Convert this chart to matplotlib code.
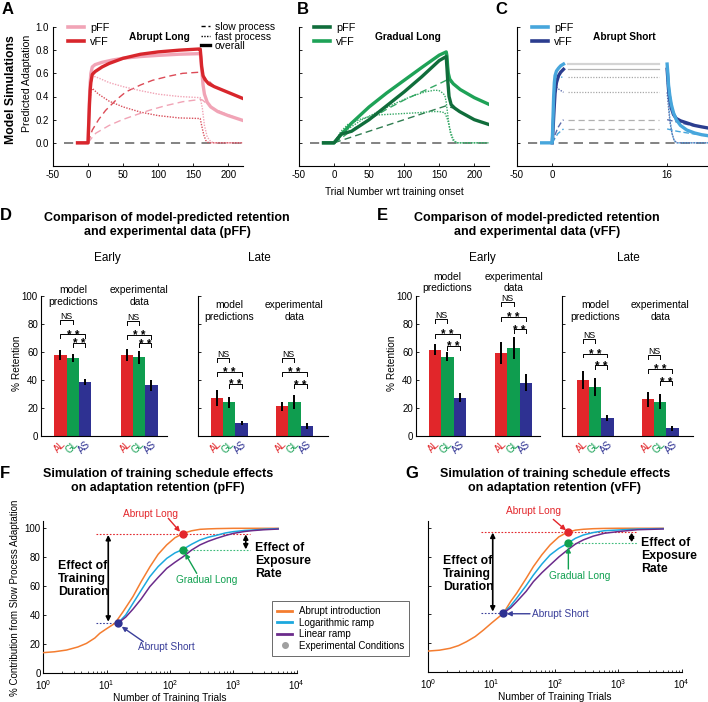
import numpy as np
import matplotlib.pyplot as plt
from matplotlib.lines import Line2D

plt.rcParams['font.family'] = ['Liberation Sans', 'DejaVu Sans']
plt.rcParams['mathtext.default'] = 'regular'
plt.rcParams['axes.linewidth'] = 0.8
plt.rcParams['xtick.direction'] = 'in'
plt.rcParams['ytick.direction'] = 'in'

# ---------------- data: panels A-C (trial number, predicted adaptation) ----------------
a_pff_t = [-15, 0, 1, 2, 3, 4, 6, 10, 20, 35, 50, 75, 100, 130, 160, 161, 162, 164, 166, 170, 175, 185, 200, 220]
a_pff = [0, 0, 0.2, 0.38, 0.52, 0.6, 0.655, 0.675, 0.695, 0.715, 0.73, 0.745, 0.755, 0.765, 0.77, 0.72, 0.64, 0.5, 0.42, 0.35, 0.31, 0.27, 0.235, 0.195]
a_vff_t = [-15, 0, 1, 2, 3, 4, 6, 10, 20, 30, 50, 75, 100, 130, 158, 160, 161, 162, 164, 167, 172, 180, 200, 220]
a_vff = [0, 0, 0.17, 0.33, 0.45, 0.52, 0.59, 0.615, 0.655, 0.685, 0.73, 0.765, 0.785, 0.8, 0.81, 0.81, 0.74, 0.66, 0.58, 0.545, 0.51, 0.485, 0.435, 0.385]
a_pff_slow_t = [0, 5, 11, 30, 49, 70, 87, 110, 135, 160, 163, 167, 175, 190, 220]
a_pff_slow = [0, 0.04, 0.083, 0.15, 0.2, 0.245, 0.28, 0.32, 0.355, 0.375, 0.37, 0.35, 0.31, 0.265, 0.195]
a_vff_slow_t = [0, 6, 15, 25, 40, 54, 75, 92, 115, 135, 160, 162, 166, 170, 180, 200, 220]
a_vff_slow = [0, 0.11, 0.2, 0.28, 0.37, 0.44, 0.5, 0.54, 0.575, 0.6, 0.61, 0.6, 0.565, 0.545, 0.49, 0.435, 0.385]
a_pff_fast_t = [0, 2, 4, 6, 15, 30, 50, 75, 100, 130, 160, 163, 166, 170, 175, 180, 220]
a_pff_fast = [0, 0.3, 0.5, 0.58, 0.56, 0.52, 0.485, 0.45, 0.42, 0.4, 0.39, 0.3, 0.15, 0.05, 0.01, 0, 0]
a_vff_fast_t = [0, 2, 4, 6, 15, 30, 50, 75, 100, 130, 160, 162, 165, 168, 172, 220]
a_vff_fast = [0, 0.3, 0.44, 0.47, 0.42, 0.36, 0.31, 0.265, 0.235, 0.215, 0.21, 0.15, 0.07, 0.02, 0, 0]

b_pff_t = [-15, 0, 10, 25, 50, 75, 100, 125, 150, 160, 161, 162, 164, 167, 172, 179, 200, 220]
b_pff = [0, 0, 0.075, 0.1, 0.2, 0.32, 0.44, 0.57, 0.71, 0.745, 0.65, 0.55, 0.4, 0.33, 0.3, 0.27, 0.2, 0.16]
b_vff_t = [-15, 0, 10, 25, 50, 75, 100, 125, 150, 160, 161, 162, 163, 165, 170, 180, 200, 220]
b_vff = [0, 0, 0.07, 0.17, 0.31, 0.43, 0.54, 0.65, 0.757, 0.785, 0.75, 0.66, 0.6, 0.55, 0.51, 0.46, 0.39, 0.335]
b_pff_slow_t = [0, 10, 50, 100, 150, 160, 170, 179, 200, 220]
b_pff_slow = [0, 0.02, 0.1, 0.2, 0.3, 0.32, 0.3, 0.27, 0.2, 0.16]
b_vff_slow_t = [0, 10, 30, 50, 75, 100, 125, 150, 160, 165, 170, 180, 200, 220]
b_vff_slow = [0, 0.04, 0.13, 0.2, 0.29, 0.37, 0.44, 0.51, 0.54, 0.53, 0.51, 0.46, 0.39, 0.335]
b_pff_fast_t = [0, 5, 10, 20, 40, 60, 90, 120, 140, 150, 158, 162, 166, 170, 175, 220]
b_pff_fast = [0, 0.05, 0.1, 0.16, 0.21, 0.24, 0.25, 0.26, 0.27, 0.27, 0.26, 0.2, 0.1, 0.03, 0, 0]
b_vff_fast_t = [0, 5, 10, 20, 40, 60, 87, 110, 130, 144, 150, 155, 158, 160, 163, 166, 170, 174, 220]
b_vff_fast = [0, 0.03, 0.07, 0.12, 0.2, 0.26, 0.34, 0.4, 0.44, 0.455, 0.45, 0.43, 0.41, 0.35, 0.2, 0.08, 0.02, 0, 0]

c_pff_t = [-15, 0, 1, 2, 3, 4, 6, 9, 12, 16]
c_pff = [0, 0, 0.2, 0.4, 0.52, 0.58, 0.62, 0.645, 0.665, 0.68]
c_vff_t = [0, 1, 2, 3, 4, 6, 9, 12, 16]
c_vff = [0, 0.1, 0.22, 0.33, 0.43, 0.52, 0.58, 0.61, 0.635]
c_pff_fast_t = [0, 2, 4, 6, 10, 16]
c_pff_fast = [0, 0.35, 0.52, 0.58, 0.57, 0.565]
c_vff_fast_t = [0, 2, 4, 6, 10, 16]
c_vff_fast = [0, 0.25, 0.42, 0.48, 0.46, 0.436]
c_slow_t = [0, 4, 8, 12, 16]
c_pff_slow = [0, 0.04, 0.08, 0.1, 0.12]
c_vff_slow = [0, 0.07, 0.13, 0.17, 0.2]
# washout after the 16-trial block
c_wash_pff_t = [16, 17, 18, 20, 22, 25, 29, 35, 44, 55, 65, 76]
c_wash_pff = [0.68, 0.6, 0.5, 0.4, 0.33, 0.26, 0.2, 0.15, 0.11, 0.085, 0.07, 0.06]
c_wash_vff_t = [16, 17, 18, 20, 22, 25, 29, 35, 45, 55, 65, 76]
c_wash_vff = [0.635, 0.55, 0.46, 0.37, 0.3, 0.245, 0.21, 0.19, 0.17, 0.15, 0.138, 0.126]
c_wash_fast_t = [16, 18, 20, 23, 26, 30, 76]
c_wash_pff_fast = [0.565, 0.35, 0.2, 0.08, 0.02, 0, 0]
c_wash_vff_fast = [0.436, 0.3, 0.18, 0.08, 0.02, 0, 0]
c_wash_slow_t = [16, 30, 50, 76]
c_wash_pff_slow = [0.12, 0.1, 0.08, 0.06]
c_wash_vff_slow = [0.2, 0.18, 0.15, 0.126]
c_gray_levels = [0.682, 0.636, 0.565, 0.436, 0.2, 0.12]

# ---------------- data: panels D-E (% retention) ----------------
groups = ['AL', 'GL', 'AS']
d_early_model = [57.9, 55.7, 38.6]; d_early_model_err = [3.8, 3.0, 2.3]
d_early_exp = [57.9, 56.2, 36.2]; d_early_exp_err = [4.3, 4.8, 3.8]
d_late_model = [27.1, 24.0, 9.3]; d_late_model_err = [6.0, 4.2, 1.5]
d_late_exp = [21.2, 24.3, 7.1]; d_late_exp_err = [3.3, 5.1, 2.4]
e_early_model = [61.7, 56.7, 27.5]; e_early_model_err = [3.7, 3.2, 2.9]
e_early_exp = [59.1, 62.9, 38.0]; e_early_exp_err = [7.9, 7.9, 6.0]
e_late_model = [40.0, 35.0, 12.7]; e_late_model_err = [6.7, 6.3, 2.2]
e_late_exp = [26.1, 24.4, 5.5]; e_late_exp_err = [5.1, 5.3, 1.8]
# bracket heights: NS (AL-GL), ** (AL-AS), ** (GL-AS)
d_early_br = [[82.9, 72.6, 66.7], [82.4, 72.4, 66.2]]
d_late_br = [[55.5, 45.7, 37.1], [55.5, 45.7, 36.9]]
e_early_br = [[83.3, 73.0, 64.1], [95.7, 85.2, 76.1]]
e_late_br = [[69.4, 58.9, 50.5], [58.1, 47.8, 39.0]]

# ---------------- data: panels F-G (% contribution from slow process) ----------------
f_abrupt_x = [1, 1.5, 2.33, 3.5, 4.8, 6.5, 7.8, 10, 13.5, 18, 26, 35, 48.3, 65, 88.6, 120, 162, 220, 297, 400, 545, 1000, 2000, 5100]
f_abrupt = [13.9, 14.5, 15.7, 17.8, 20.3, 24, 27.3, 30.5, 34.2, 42, 52.7, 63, 73.4, 82, 88.5, 93.5, 96.5, 98.3, 99.3, 99.6, 99.8, 100, 100, 100]
f_ramp_x = [15, 20, 26, 35, 48, 65, 89, 120, 162, 220, 297, 400, 545, 750, 1000, 1500, 2000, 3000, 5100]
f_log = [34.2, 40, 48, 57, 66.5, 73.5, 79.2, 83, 85.5, 89, 91.9, 93.8, 95.2, 96.8, 97.7, 98.5, 98.8, 99.4, 99.8]
f_lin = [34.2, 38.5, 44, 51, 59.6, 66, 72.3, 76.5, 80.4, 85, 88.5, 91, 93.1, 95, 96.5, 97.8, 98.4, 99, 99.5]
f_pts_x = [15, 158, 162]
f_pts = [34.2, 95.8, 85.0]

g_abrupt_x = [1, 1.5, 2.2, 3, 4, 5.5, 7.4, 10, 15.3, 20, 24.8, 35, 45.6, 62, 83.7, 115, 153, 210, 280, 400, 600, 1000, 2000, 5100]
g_abrupt = [14.4, 15, 16.3, 18.2, 20.9, 24.5, 29, 34, 40.7, 49, 54.7, 65, 73.3, 81.5, 88.4, 94, 97, 98.7, 99.3, 99.7, 99.9, 100, 100, 100]
g_ramp_x = [15, 20, 24.8, 35, 45.6, 62, 83.7, 115, 158, 210, 280, 400, 600, 1000, 2000, 5100]
g_log = [40.7, 46, 51.2, 60, 67.4, 75, 81.4, 86, 89.5, 93, 95.3, 97, 98.3, 98.8, 99.5, 99.8]
g_lin = [40.7, 44.5, 48.8, 56, 62.8, 69, 74.4, 80, 84.9, 89, 91.9, 94.5, 96.5, 97.7, 99, 99.5]
g_pts_x = [14.9, 158, 158]
g_pts = [40.7, 97.7, 89.5]

# colours
PINK, RED = '#f1a4b6', '#d8262c'
DKGREEN, GREEN = '#106d3b', '#1ea257'
LTBLUE, NAVY = '#47a6dc', '#2b3d8f'
BAR_R, BAR_G, BAR_B = '#e1262a', '#0f9d4f', '#2e3192'
ORANGE, CYAN, PURPLE = '#f47d30', '#1ca8de', '#6b2b8b'

W, H = 708, 702
fig = plt.figure(figsize=(7.08, 7.02), dpi=100)


def box(l, t, r, b):
    return [l / W, 1 - b / H, (r - l) / W, (b - t) / H]


def ftext(x, y, s, **kw):
    fig.text(x / W, 1 - y / H, s, **kw)


def clean(ax):
    for s in ['top', 'right']:
        ax.spines[s].set_visible(False)


# ---------------- A-C ----------------
def sim_axes(rect, ticks, labels, ylabels=True):
    ax = fig.add_axes(rect)
    clean(ax)
    ax.set_xlim(-50, 221)
    ax.set_ylim(-0.2, 1.0)
    ax.set_xticks(ticks)
    ax.set_xticklabels(labels)
    ax.set_yticks(np.arange(0, 1.01, 0.2))
    if ylabels:
        ax.set_yticklabels(['%.1f' % v for v in np.arange(0, 1.01, 0.2)])
    else:
        ax.set_yticklabels([])
    ax.tick_params(length=2.5, width=0.6, labelsize=7, pad=3)
    ax.plot([-34, 221], [0, 0], color='#606060', lw=1.1, ls=(0, (6, 4)), zorder=1)
    return ax


def sim_legend(ax, c1, c2):
    h = [Line2D([], [], color=c1, lw=2.6), Line2D([], [], color=c2, lw=2.6)]
    ax.legend(h, ['pFF', 'vFF'], loc='upper left', bbox_to_anchor=(0.057, 1.06),
              frameon=False, fontsize=7.8, handlelength=1.5, handletextpad=0.55,
              labelspacing=0.38, borderaxespad=0)


axA = sim_axes(box(53, 27, 243, 166), [-50, 0, 50, 100, 150, 200], ['-50', '0', '50', '100', '150', '200'])
axA.plot(a_pff_slow_t, a_pff_slow, color=PINK, lw=1, ls=(0, (5, 3)))
axA.plot(a_vff_slow_t, a_vff_slow, color='#dc4b57', lw=1, ls=(0, (5, 3)))
axA.plot(a_pff_fast_t, a_pff_fast, color=PINK, lw=1, ls=(0, (1, 1)))
axA.plot(a_vff_fast_t, a_vff_fast, color='#d9505c', lw=1, ls=(0, (1, 1)))
axA.plot(a_pff_t, a_pff, color=PINK, lw=2.4)
axA.plot(a_vff_t, a_vff, color=RED, lw=2.4)
sim_legend(axA, PINK, RED)
axA.text(0.4, 0.93, 'Abrupt Long', transform=axA.transAxes, fontsize=7.3, fontweight='bold', va='center')

axB = sim_axes(box(299, 27, 489, 166), [-50, 0, 50, 100, 150, 200], ['-50', '0', '50', '100', '150', '200'], False)
axB.plot(b_pff_slow_t, b_pff_slow, color='#2f7d50', lw=1, ls=(0, (5, 3)))
axB.plot(b_vff_slow_t, b_vff_slow, color='#35a865', lw=1, ls=(0, (5, 3)))
axB.plot(b_pff_fast_t, b_pff_fast, color='#35a865', lw=1, ls=(0, (1, 1)))
axB.plot(b_vff_fast_t, b_vff_fast, color='#35a865', lw=1, ls=(0, (1, 1)))
axB.plot(b_vff_t, b_vff, color=GREEN, lw=2.4)
axB.plot(b_pff_t, b_pff, color=DKGREEN, lw=2.4)
sim_legend(axB, DKGREEN, GREEN)
axB.text(0.4, 0.93, 'Gradual Long', transform=axB.transAxes, fontsize=7.3, fontweight='bold', va='center')
axB.set_xlabel('Trial Number wrt training onset', fontsize=7.3, labelpad=5)

# panel C: x axis broken after the 16 training trials
C_GAP = 147
axC = sim_axes(box(517, 27, 708, 166), [-50, 0, 16 + C_GAP], ['-50', '0', '16'], False)
for lv, st in zip(c_gray_levels, [('-', 1.6, '#d4d4d4'), ('-', 0.9, '#b4b4b4'), ((0, (1, 1.2)), 0.9, '#a8a8a8'),
                                  ((0, (1, 1.2)), 0.9, '#a8a8a8'), ((0, (5, 3)), 0.9, '#b0b0b0'), ((0, (5, 3)), 0.9, '#b0b0b0')]):
    axC.plot([22, 152], [lv, lv], ls=st[0], lw=st[1], color=st[2])
wp = np.array(c_wash_pff_t) + C_GAP
wv = np.array(c_wash_vff_t) + C_GAP
wf = np.array(c_wash_fast_t) + C_GAP
ws = np.array(c_wash_slow_t) + C_GAP
axC.plot(c_slow_t, c_pff_slow, color=LTBLUE, lw=1, ls=(0, (4, 2)))
axC.plot(c_slow_t, c_vff_slow, color='#5a6aaa', lw=1, ls=(0, (4, 2)))
axC.plot(c_pff_fast_t, c_pff_fast, color=LTBLUE, lw=1, ls=(0, (1, 1)))
axC.plot(c_vff_fast_t, c_vff_fast, color='#5a6aaa', lw=1, ls=(0, (1, 1)))
axC.plot(ws, c_wash_pff_slow, color=LTBLUE, lw=1, ls=(0, (4, 2)))
axC.plot(ws, c_wash_vff_slow, color='#5a6aaa', lw=1, ls=(0, (4, 2)))
axC.plot(wf, c_wash_pff_fast, color=LTBLUE, lw=1, ls=(0, (1, 1)))
axC.plot(wf, c_wash_vff_fast, color='#5a6aaa', lw=1, ls=(0, (1, 1)))
axC.plot(c_vff_t, c_vff, color=NAVY, lw=2.4)
axC.plot(wv, c_wash_vff, color=NAVY, lw=2.4)
axC.plot(c_pff_t, c_pff, color=LTBLUE, lw=2.4)
axC.plot(wp, c_wash_pff, color=LTBLUE, lw=2.4)
sim_legend(axC, LTBLUE, NAVY)
axC.text(0.4, 0.93, 'Abrupt Short', transform=axC.transAxes, fontsize=7.3, fontweight='bold', va='center')

proc_h = [Line2D([], [], color='k', lw=1, ls=(0, (3, 2))), Line2D([], [], color='k', lw=1, ls=(0, (1, 1))),
          Line2D([], [], color='k', lw=2.4)]
fig.legend(proc_h, ['slow process', 'fast process', 'overall'], loc='upper left',
           bbox_to_anchor=(198 / W, 1 - 19 / H), frameon=False, fontsize=7.5, handlelength=0.9,
           handletextpad=0.4, labelspacing=-0.05, borderaxespad=0, borderpad=0.3)

ftext(11, 90, 'Model Simulations', rotation=90, fontsize=8.8, fontweight='bold', ha='center', va='center')
ftext(27.5, 83, 'Predicted Adaptation', rotation=90, fontsize=7.6, ha='center', va='center')


# ---------------- D-E ----------------
def bar_axes(rect, xlim, g2, model, model_err, exp, exp_err, br, ylab, text_y):
    ax = fig.add_axes(rect)
    clean(ax)
    ax.set_xlim(*xlim)
    ax.set_ylim(0, 100)
    cols = [BAR_R, BAR_G, BAR_B]
    pos = [1, 2, 3, 1 + g2, 2 + g2, 3 + g2]
    ax.bar(pos, model + exp, width=1.0, color=cols * 2, zorder=2)
    ax.errorbar(pos, model + exp, yerr=model_err + exp_err, fmt='none', ecolor='k', elinewidth=1.4, capsize=0, zorder=3)
    ax.set_xticks(pos)
    ax.set_xticklabels(groups * 2, rotation=45, ha='right', va='top', rotation_mode='anchor', fontsize=7)
    for lab, c in zip(ax.get_xticklabels(), cols * 2):
        lab.set_color(c)
    ax.tick_params(axis='x', length=0, pad=2)
    ax.set_yticks(range(0, 101, 20))
    ax.tick_params(axis='y', length=2.5, width=0.6, labelsize=7, pad=2)
    if not ylab:
        ax.set_yticklabels([])
    for off, (ns, b1, b2) in zip([0, g2], br):
        for (x1, x2, y, s) in [(1, 2, ns, 'NS'), (1, 3, b1, '**'), (2, 3, b2, '**')]:
            ax.plot([x1 + off, x1 + off, x2 + off, x2 + off], [y - 2.8, y, y, y - 2.8], color='k', lw=0.7,
                    clip_on=False)
            if s == 'NS':
                ax.text((x1 + x2) / 2 + off, y + 0.8, s, fontsize=6.3, ha='center', va='baseline', clip_on=False)
            else:
                ax.text((x1 + x2) / 2 + off, y - 3.0, '* *', fontsize=8.5, fontweight='bold', ha='center',
                        va='baseline', clip_on=False)
    ax.text(2, text_y, 'model\npredictions', fontsize=7.4, ha='center', va='center', linespacing=1.15)
    ax.text(2 + g2, text_y, 'experimental\ndata', fontsize=7.4, ha='center', va='center', linespacing=1.15)
    return ax


bar_axes(box(40.7, 296, 167, 436), (-0.61, 9.66), 5.39, d_early_model, d_early_model_err, d_early_exp,
         d_early_exp_err, d_early_br, True, 100)
bar_axes(box(197.7, 296, 328.3, 436), (-0.57, 10.05), 5.3, d_late_model, d_late_model_err, d_late_exp,
         d_late_exp_err, d_late_br, False, 89.3)
bar_axes(box(415.7, 296, 540, 436), (-0.58, 9.52), 5.37, e_early_model, e_early_model_err, e_early_exp,
         e_early_exp_err, e_early_br, True, 109.6)
bar_axes(box(562.3, 296, 693.3, 436), (-0.67, 9.98), 5.28, e_late_model, e_late_model_err, e_late_exp,
         e_late_exp_err, e_late_br, False, 89.3)

for x, pff in [(167, 'pFF'), (537, 'vFF')]:
    ftext(x, 225, 'Comparison of model-predicted retention\nand experimental data (%s)' % pff,
          fontsize=9, fontweight='bold', ha='center', va='center', linespacing=1.2)
ftext(107, 258, 'Early', fontsize=8.5, ha='center', va='center')
ftext(259, 258, 'Late', fontsize=8.5, ha='center', va='center')
ftext(482, 258, 'Early', fontsize=8.5, ha='center', va='center')
ftext(628, 258, 'Late', fontsize=8.5, ha='center', va='center')
ftext(16.7, 363, '% Retention', rotation=90, fontsize=7.3, ha='center', va='center')
ftext(391.7, 363, '% Retention', rotation=90, fontsize=7.3, ha='center', va='center')


# ---------------- F-G ----------------
def sched_axes(rect, ylab):
    ax = fig.add_axes(rect)
    clean(ax)
    ax.set_xscale('log')
    ax.set_xlim(1, 1e4)
    ax.set_ylim(0, 105)
    ax.set_yticks(range(0, 101, 20))
    if not ylab:
        ax.set_yticklabels([])
    ax.tick_params(which='major', length=2.5, width=0.6, labelsize=7, pad=2)
    ax.tick_params(axis='x', which='major', pad=4)
    ax.tick_params(which='minor', length=1.5, width=0.5)
    ax.set_xlabel('Number of Training Trials', fontsize=7.3, labelpad=1)
    ax.patch.set_visible(False)
    return ax


def sched_plot(ax, ax_x, ab, rx, lg, ln, px, py, dot_end):
    ax.plot(ax_x, ab, color=ORANGE, lw=1.1, zorder=3)
    ax.plot(rx, lg, color=CYAN, lw=1.1, zorder=3)
    ax.plot(rx, ln, color=PURPLE, lw=1.1, zorder=3)
    ax.plot([6.9, dot_end], [py[1], py[1]], color='#e3262b', lw=0.8, ls=(0, (1.5, 1.5)), zorder=2)
    ax.plot([px[2], dot_end], [py[2], py[2]], color='#3dbb7a', lw=0.8, ls=(0, (1.5, 1.5)), zorder=2)
    ax.plot([6.9, px[0]], [py[0], py[0]], color='#3a3f9a', lw=0.8, ls=(0, (1.5, 1.5)), zorder=2)
    for x, y, c in zip(px, py, ['#2e3192', '#e3262b', '#10a050']):
        ax.plot(x, y, 'o', color=c, ms=5, zorder=4)


def dbl_arrow(ax, x, y1, y2):
    ax.annotate('', xy=(x, y1), xytext=(x, y2),
                arrowprops=dict(arrowstyle='<|-|>', color='k', lw=1.2, mutation_scale=7, shrinkA=0, shrinkB=0))


def note(ax, s, c, xy, tail, txy, ha='center'):
    ax.annotate('', xy=xy, xytext=tail,
                arrowprops=dict(arrowstyle='-|>', color=c, lw=1.0, mutation_scale=7, shrinkA=0, shrinkB=0))
    ax.text(txy[0], txy[1], s, color=c, fontsize=7.3, ha=ha, va='center', clip_on=False)


axF = sched_axes(box(43.3, 521.1, 296.7, 672.7), True)
sched_plot(axF, f_abrupt_x, f_abrupt, f_ramp_x, f_log, f_lin, f_pts_x, f_pts, 1850)
dbl_arrow(axF, 10.6, 95.4, 35.3)
dbl_arrow(axF, 1571, 95.8, 85.4)
axF.text(1.72, 64.7, 'Effect of\nTraining\nDuration', fontsize=8.8, fontweight='bold', va='center', linespacing=1.1)
axF.text(2200, 77.4, 'Effect of\nExposure\nRate', fontsize=8.8, fontweight='bold', va='center', linespacing=1.1,
         clip_on=False)
note(axF, 'Abrupt Long', '#e3262b', (144, 97.6), (94, 106.9), (48.4, 109.9))
note(axF, 'Gradual Long', '#10a050', (173, 82.7), (264, 68.8), (380, 64.2))
note(axF, 'Abrupt Short', '#3a3f9a', (17.3, 31.9), (37.9, 21.5), (86.5, 18))
leg_h = [Line2D([], [], color=ORANGE, lw=2), Line2D([], [], color=CYAN, lw=2), Line2D([], [], color=PURPLE, lw=2),
         Line2D([], [], color='#a0a0a0', lw=0, marker='o', ms=4)]
lg = axF.legend(leg_h, ['Abrupt introduction', 'Logarithmic ramp', 'Linear ramp', 'Experimental Conditions'],
                loc='upper left', bbox_to_anchor=(0.9025, 0.473), borderaxespad=0, fontsize=7, fancybox=False,
                edgecolor='#444444', handlelength=1.5, handletextpad=0.7, labelspacing=0.15, borderpad=0.55)
lg.get_frame().set_linewidth(0.7)
lg.set_zorder(10)
axF.set_zorder(5)

axG = sched_axes(box(428.3, 521.1, 681.7, 671.7), False)
sched_plot(axG, g_abrupt_x, g_abrupt, g_ramp_x, g_log, g_lin, g_pts_x, g_pts, 2000)
dbl_arrow(axG, 10.4, 97.0, 41.9)
dbl_arrow(axG, 1620, 97.0, 90.2)
axG.text(1.69, 68.1, 'Effect of\nTraining\nDuration', fontsize=8.8, fontweight='bold', va='center', linespacing=1.1)
axG.text(2260, 80.8, 'Effect of\nExposure\nRate', fontsize=8.8, fontweight='bold', va='center', linespacing=1.1,
         clip_on=False)
note(axG, 'Abrupt Long', '#e3262b', (149, 98.6), (94, 106.2), (45.5, 112))
note(axG, 'Gradual Long', '#10a050', (162.5, 86.6), (162.5, 71.6), (248, 67))
note(axG, 'Abrupt Short', '#3a3f9a', (17.3, 40.4), (40.3, 40.4), (42.9, 40.4), ha='left')

for x, pff in [(158, 'pFF'), (555, 'vFF')]:
    ftext(x, 481, 'Simulation of training schedule effects\non adaptation retention (%s)' % pff,
          fontsize=9, fontweight='bold', ha='center', va='center', linespacing=1.2)
ftext(15.5, 598, '% Contribution from Slow Process Adaptation', rotation=90, fontsize=7, ha='center', va='center')

# panel letters
for s, x, y in [('A', 2, 10), ('B', 297, 10), ('C', 495, 10), ('D', 0, 215), ('E', 377, 215),
                ('F', 0, 473), ('G', 405, 473)]:
    ftext(x, y, s, fontsize=12, fontweight='bold', ha='left', va='center')

fig.savefig('out.png', dpi=100)
